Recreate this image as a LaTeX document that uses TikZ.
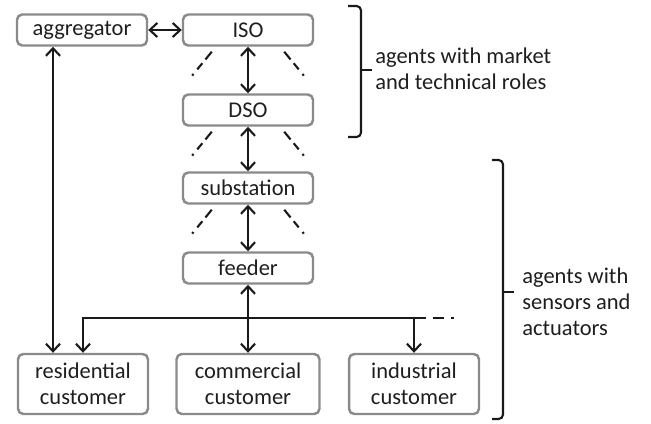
\documentclass[tikz,border=0pt]{standalone}
\usepackage{fontspec}
\setmainfont{Carlito}
\usetikzlibrary{arrows.meta}
\definecolor{boxline}{HTML}{8A8A8A}
\definecolor{ink}{HTML}{1A1A1A}
\definecolor{txt}{HTML}{1E1E1E}

\tikzset{
  agentbox/.style={draw=boxline,line width=1.4pt,rounded corners=3pt,minimum width=2.6cm,
    minimum height=0.62cm,inner sep=0pt,text=txt,font=\fontsize{12.8}{14.7}\selectfont},
  custbox/.style={agentbox,minimum height=1.2cm,align=center},
  link/.style={ink,line width=1.2pt,{Straight Barb[length=4.3pt,width=8pt]}-{Straight Barb[length=4.3pt,width=8pt]}},
  fanout/.style={ink,line width=1.2pt,dash pattern=on 5.7pt off 2.8pt on 4.5pt off 3.4pt on 1.2pt},
  bracket/.style={ink,line width=1.2pt,rounded corners=2.5pt},
  side/.style={anchor=west,inner sep=0pt,align=left,text=txt,font=\fontsize{12.8}{14.7}\selectfont}
}

\begin{document}
\begin{tikzpicture}[x=0.02cm,y=-0.02cm]
        \useasboundingbox (0,0) rectangle (651,423);

        % agents with market and technical roles
        \node[agentbox] (agg) at (82,30) {aggregator};
        \node[agentbox] (iso) at (248,30) {ISO};
        \node[agentbox] (dso) at (248,110) {DSO};

        % agents with sensors and actuators
        \node[agentbox] (sub) at (248,188) {substation};
        \node[agentbox] (fdr) at (248,268) {feeder};
        \node[custbox] (res) at (83,384) {residential\\customer};
        \node[custbox,minimum width=2.86cm] (com) at (248,384) {commercial\\customer};
        \node[custbox] (ind) at (414,384) {industrial\\customer};

        % vertical chain
        \draw[link] (agg) -- (iso);
        \draw[link] (iso) -- (dso);
        \draw[link] (dso) -- (sub);
        \draw[link] (sub) -- (fdr);
        \draw[link] (fdr) -- (com);
        \draw[link] ([xshift=-0.58cm]agg.south) -- ([xshift=-0.58cm]agg.south |- res.north);

        % fan out below the upper agents
        \foreach \n in {iso,dso,sub}{
                \draw[fanout] ([shift={(30,5)}]\n.south west) -- ++(-23,28);
                \draw[fanout] ([shift={(-30,5)}]\n.south east) -- ++(23,28);
            }

        % distribution bus
        \coordinate (bus) at (248,318);
        \draw[link] (res.north) -- (res.north |- bus) -- (ind.north |- bus) -- (ind.north);
        \draw[ink,line width=1.2pt,dash pattern=on 6.8pt off 4pt on 6.2pt off 4pt on 1.7pt]
        (ind.north |- bus) -- ++(40,0);

        % brackets
        \draw[bracket] (348,6) -- (361,6) -- (361,137) -- (348,137);
        \draw[ink,line width=1.2pt] (361,70) -- (372,70);
        \node[side] (roles) at (375,69) {agents with market\\and technical roles};

        \draw[bracket] (492,160) -- (503,160) -- (503,419) -- (492,419);
        \draw[ink,line width=1.2pt] (503,292) -- (514,292);
        \node[side] (sensing) at (522,302) {agents with\\sensors and\\actuators};
    \end{tikzpicture}
\end{document}
